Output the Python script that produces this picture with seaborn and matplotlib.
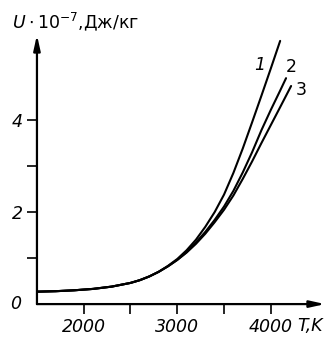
import numpy as np
import pandas as pd
import matplotlib
matplotlib.use("Agg")
import matplotlib.pyplot as plt
import seaborn as sns

# curve values (T in K, U in 1e7 J/kg)
t_1 = [1500, 1700, 1900, 2100, 2300, 2500, 2600, 2700, 2800, 2900, 3000, 3100,
       3200, 3300, 3400, 3500, 3600, 3700, 3800, 3900, 4000, 4100]
u_1 = [0.27, 0.28, 0.30, 0.33, 0.38, 0.46, 0.52, 0.60, 0.70, 0.83, 0.98, 1.17,
       1.40, 1.68, 2.00, 2.38, 2.85, 3.38, 3.95, 4.53, 5.12, 5.72]

t_2 = [1500, 1700, 1900, 2100, 2300, 2500, 2600, 2700, 2800, 2900, 3000, 3100,
       3200, 3300, 3400, 3500, 3600, 3700, 3800, 3900, 4000, 4100, 4163]
u_2 = [0.27, 0.28, 0.30, 0.33, 0.38, 0.46, 0.52, 0.60, 0.70, 0.82, 0.96, 1.13,
       1.34, 1.57, 1.83, 2.12, 2.46, 2.86, 3.30, 3.78, 4.22, 4.64, 4.91]

t_3 = [1500, 1700, 1900, 2100, 2300, 2500, 2600, 2700, 2800, 2900, 3000, 3100,
       3200, 3300, 3400, 3500, 3600, 3700, 3800, 3900, 4000, 4100, 4217]
u_3 = [0.27, 0.28, 0.30, 0.33, 0.38, 0.46, 0.52, 0.60, 0.70, 0.82, 0.96, 1.12,
       1.31, 1.53, 1.78, 2.05, 2.36, 2.72, 3.10, 3.50, 3.89, 4.28, 4.74]

curve_names = ["1", "2", "3"]
x_ticks = [2000, 2500, 3000, 3500, 4000]
x_labels = ["2000", "", "3000", "", "4000"]
y_ticks = [1, 2, 3, 4]
y_labels = ["", "2", "", "4"]

df = pd.concat([
    pd.DataFrame({"T": t, "U": u, "curve": name})
    for t, u, name in zip([t_1, t_2, t_3], [u_1, u_2, u_3], curve_names)
])

sns.set_style("ticks")
plt.rcParams["font.family"] = ["DejaVu Sans"]
plt.rcParams["text.color"] = "black"
plt.rcParams["xtick.color"] = "black"
plt.rcParams["ytick.color"] = "black"

fig = plt.figure(figsize=(3.3, 3.39), dpi=100)
ax = fig.add_axes([0.112, 0.103, 0.873, 0.794])

sns.lineplot(data=df, x="T", y="U", hue="curve", units="curve", estimator=None,
             palette=["black"] * 3, linewidth=1.5, legend=False, ax=ax)

ax.set_xlim(1500, 4580)
ax.set_ylim(0, 5.85)
sns.despine(ax=ax, left=True, bottom=True)

# axes drawn as arrows
arrow = dict(arrowstyle="-|>,head_length=0.9,head_width=0.2", lw=1.6, color="black",
             shrinkA=0, shrinkB=0)
ax.annotate("", xy=(1.0, 0), xytext=(0, 0), xycoords="axes fraction", arrowprops=arrow)
ax.annotate("", xy=(0, 1.0), xytext=(0, 0), xycoords="axes fraction", arrowprops=arrow)

ax.set_xticks(x_ticks)
ax.set_xticklabels(x_labels, fontsize=12.5, fontstyle="italic")
ax.set_yticks(y_ticks)
ax.set_yticklabels(y_labels, fontsize=12.5, fontstyle="italic")
ax.tick_params(axis="both", direction="out", length=7, width=1.2, color="black",
               labelcolor="black", pad=3, left=True, bottom=True)
ax.set_xlabel("")
ax.set_ylabel("")

ax.text(-0.055, 0, "0", transform=ax.transAxes, fontsize=12.5, fontstyle="italic",
        ha="right", va="center")
ax.text(0.905, -0.08, "T,K", transform=ax.transAxes, fontsize=12.5, fontstyle="italic",
        ha="left", va="center")
fig.text(0.035, 0.935, r"$\mathit{U}\cdot\mathit{10}^{-7}$,Дж/кг", fontsize=12.5,
         ha="left", va="center")

# curve numbers
ax.text(3885, 5.2, "1", fontsize=12.5, fontstyle="italic", ha="center", va="center")
ax.text(4217, 5.15, "2", fontsize=12.5, ha="center", va="center")
ax.text(4323, 4.65, "3", fontsize=12.5, ha="center", va="center")

fig.savefig("out.png", dpi=100)
